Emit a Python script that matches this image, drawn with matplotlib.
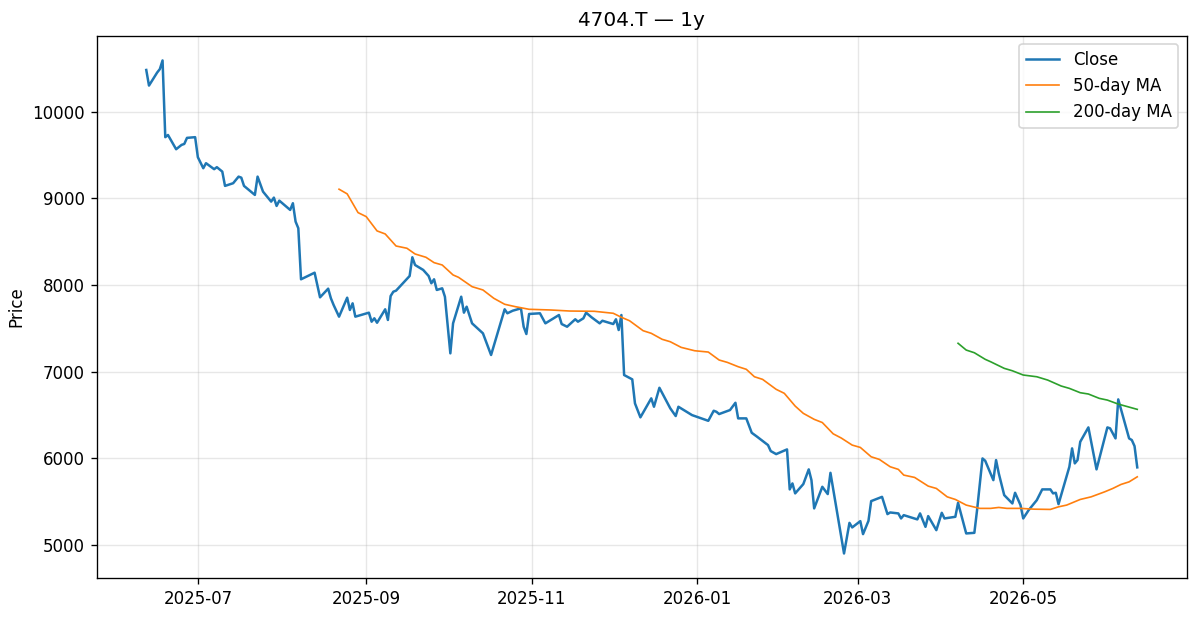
import matplotlib
matplotlib.use('Agg')
import matplotlib.pyplot as plt
import pandas as pd

# Close prices
close_dates = [
    '2025-06-12', '2025-06-13', '2025-06-16', '2025-06-17', '2025-06-18', '2025-06-19',
    '2025-06-20', '2025-06-23', '2025-06-25', '2025-06-26', '2025-06-27', '2025-06-30',
    '2025-07-01', '2025-07-03', '2025-07-04', '2025-07-07', '2025-07-08', '2025-07-10',
    '2025-07-11', '2025-07-14', '2025-07-16', '2025-07-17', '2025-07-18', '2025-07-22',
    '2025-07-23', '2025-07-25', '2025-07-28', '2025-07-29', '2025-07-30', '2025-07-31',
    '2025-08-04', '2025-08-05', '2025-08-06', '2025-08-07', '2025-08-08', '2025-08-13',
    '2025-08-15', '2025-08-18', '2025-08-19', '2025-08-20', '2025-08-22', '2025-08-25',
    '2025-08-26', '2025-08-27', '2025-08-28', '2025-09-02', '2025-09-03', '2025-09-04',
    '2025-09-05', '2025-09-08', '2025-09-09', '2025-09-10', '2025-09-11', '2025-09-12',
    '2025-09-17', '2025-09-18', '2025-09-19', '2025-09-22', '2025-09-24', '2025-09-25',
    '2025-09-26', '2025-09-27', '2025-09-29', '2025-09-30', '2025-10-02', '2025-10-03',
    '2025-10-06', '2025-10-07', '2025-10-08', '2025-10-10', '2025-10-14', '2025-10-17',
    '2025-10-22', '2025-10-23', '2025-10-25', '2025-10-28', '2025-10-29', '2025-10-30',
    '2025-10-31', '2025-11-04', '2025-11-06', '2025-11-07', '2025-11-11', '2025-11-12',
    '2025-11-14', '2025-11-17', '2025-11-18', '2025-11-20', '2025-11-21', '2025-11-23',
    '2025-11-26', '2025-11-27', '2025-12-01', '2025-12-02', '2025-12-03', '2025-12-04',
    '2025-12-05', '2025-12-08', '2025-12-09', '2025-12-11', '2025-12-15', '2025-12-16',
    '2025-12-18', '2025-12-22', '2025-12-24', '2025-12-25', '2025-12-30', '2026-01-05',
    '2026-01-07', '2026-01-08', '2026-01-09', '2026-01-13', '2026-01-15', '2026-01-16',
    '2026-01-19', '2026-01-21', '2026-01-23', '2026-01-27', '2026-01-28', '2026-01-30',
    '2026-02-03', '2026-02-04', '2026-02-05', '2026-02-06', '2026-02-09', '2026-02-11',
    '2026-02-12', '2026-02-13', '2026-02-16', '2026-02-18', '2026-02-19', '2026-02-24',
    '2026-02-26', '2026-02-27', '2026-03-02', '2026-03-03', '2026-03-05', '2026-03-06',
    '2026-03-10', '2026-03-12', '2026-03-13', '2026-03-16', '2026-03-17', '2026-03-18',
    '2026-03-23', '2026-03-24', '2026-03-26', '2026-03-27', '2026-03-30', '2026-04-01',
    '2026-04-02', '2026-04-06', '2026-04-07', '2026-04-10', '2026-04-13', '2026-04-14',
    '2026-04-16', '2026-04-17', '2026-04-20', '2026-04-21', '2026-04-22', '2026-04-24',
    '2026-04-27', '2026-04-28', '2026-04-30', '2026-05-01', '2026-05-03', '2026-05-06',
    '2026-05-08', '2026-05-11', '2026-05-12', '2026-05-13', '2026-05-14', '2026-05-18',
    '2026-05-19', '2026-05-20', '2026-05-21', '2026-05-22', '2026-05-25', '2026-05-28',
    '2026-06-01', '2026-06-02', '2026-06-04', '2026-06-05', '2026-06-09', '2026-06-10',
    '2026-06-11', '2026-06-12',
]
close_values = [
    10480, 10300, 10450, 10490, 10590, 9705,
    9730, 9566, 9616, 9627, 9697, 9705,
    9474, 9347, 9405, 9336, 9359, 9308,
    9143, 9174, 9250, 9238, 9143, 9039,
    9250, 9077, 8962, 9008, 8912, 8973,
    8866, 8943, 8731, 8655, 8066, 8142,
    7858, 7958, 7847, 7770, 7635, 7854,
    7712, 7789, 7635, 7681, 7577, 7616,
    7565, 7720, 7597, 7873, 7923, 7935,
    8104, 8320, 8231, 8174, 8104, 8020,
    8066, 7943, 7962, 7865, 7212, 7558,
    7865, 7681, 7750, 7558, 7443, 7193,
    7720, 7674, 7704, 7731, 7519, 7435,
    7666, 7674, 7558, 7577, 7654, 7550,
    7519, 7605, 7577, 7616, 7681, 7628,
    7558, 7588, 7550, 7605, 7481, 7654,
    6962, 6912, 6635, 6474, 6693, 6596,
    6815, 6578, 6489, 6596, 6500, 6434,
    6550, 6538, 6512, 6558, 6642, 6462,
    6462, 6296, 6250, 6154, 6085, 6050,
    6104, 5643, 5712, 5597, 5704, 5874,
    5750, 5424, 5673, 5589, 5834, 4904,
    5257, 5204, 5277, 5127, 5280, 5508,
    5557, 5358, 5377, 5366, 5308, 5346,
    5297, 5366, 5211, 5335, 5173, 5373,
    5308, 5327, 5488, 5135, 5142, 5404,
    6000, 5973, 5750, 5981, 5827, 5577,
    5481, 5604, 5462, 5308, 5404, 5519,
    5643, 5643, 5597, 5604, 5473, 5904,
    6116, 5943, 5981, 6192, 6358, 5874,
    6358, 6347, 6231, 6681, 6231, 6212,
    6142, 5897,
]

# 50-day moving average
ma50_dates = [
    '2025-08-22', '2025-08-25', '2025-08-29', '2025-09-01', '2025-09-05', '2025-09-08',
    '2025-09-12', '2025-09-16', '2025-09-19', '2025-09-23', '2025-09-26', '2025-09-29',
    '2025-10-03', '2025-10-05', '2025-10-10', '2025-10-14', '2025-10-18', '2025-10-22',
    '2025-10-26', '2025-10-31', '2025-11-08', '2025-11-15', '2025-11-24', '2025-12-01',
    '2025-12-04', '2025-12-07', '2025-12-12', '2025-12-15', '2025-12-19', '2025-12-22',
    '2025-12-26', '2025-12-31', '2026-01-05', '2026-01-09', '2026-01-12', '2026-01-16',
    '2026-01-19', '2026-01-22', '2026-01-25', '2026-01-30', '2026-02-02', '2026-02-06',
    '2026-02-09', '2026-02-13', '2026-02-16', '2026-02-20', '2026-02-23', '2026-02-27',
    '2026-03-02', '2026-03-06', '2026-03-09', '2026-03-13', '2026-03-16', '2026-03-18',
    '2026-03-22', '2026-03-27', '2026-03-30', '2026-04-03', '2026-04-06', '2026-04-10',
    '2026-04-15', '2026-04-19', '2026-04-22', '2026-04-25', '2026-04-30', '2026-05-05',
    '2026-05-11', '2026-05-14', '2026-05-17', '2026-05-22', '2026-05-26', '2026-05-31',
    '2026-06-03', '2026-06-06', '2026-06-09', '2026-06-12',
]
ma50_values = [
    9105, 9051, 8835, 8789, 8624, 8589,
    8450, 8424, 8358, 8320, 8258, 8231,
    8116, 8089, 7981, 7943, 7847, 7778,
    7750, 7720, 7712, 7700, 7697, 7674,
    7628, 7588, 7473, 7443, 7374, 7346,
    7281, 7242, 7227, 7135, 7108, 7058,
    7028, 6942, 6912, 6797, 6751, 6604,
    6520, 6451, 6414, 6284, 6235, 6154,
    6127, 6019, 5989, 5904, 5874, 5808,
    5781, 5681, 5654, 5557, 5527, 5462,
    5424, 5424, 5435, 5424, 5424, 5415,
    5412, 5442, 5462, 5527, 5557, 5615,
    5654, 5700, 5730, 5788,
]

# 200-day moving average
ma200_dates = [
    '2026-04-07', '2026-04-10', '2026-04-13', '2026-04-17', '2026-04-19', '2026-04-24',
    '2026-04-27', '2026-05-01', '2026-05-06', '2026-05-10', '2026-05-15', '2026-05-18',
    '2026-05-22', '2026-05-25', '2026-05-29', '2026-06-01', '2026-06-05', '2026-06-12',
]
ma200_values = [
    7328, 7250, 7219, 7143, 7115, 7039,
    7011, 6962, 6942, 6904, 6835, 6808,
    6758, 6743, 6693, 6673, 6627, 6566,
]

close_dates = pd.to_datetime(close_dates)
ma50_dates = pd.to_datetime(ma50_dates)
ma200_dates = pd.to_datetime(ma200_dates)

fig, ax = plt.subplots(figsize=(10, 5.1417), dpi=120)
fig.subplots_adjust(left=0.0806, right=0.989, top=0.942, bottom=0.063)

ax.plot(close_dates, close_values, label='Close', color='#1f77b4', linewidth=1.5)
ax.plot(ma50_dates, ma50_values, label='50-day MA', color='#ff7f0e', linewidth=1.0)
ax.plot(ma200_dates, ma200_values, label='200-day MA', color='#2ca02c', linewidth=1.0)

ax.set_title('4704.T — 1y')
ax.set_ylabel('Price')
ax.grid(True, alpha=0.3)
ax.legend(loc='upper right')

fig.savefig('out.png', dpi=120)
